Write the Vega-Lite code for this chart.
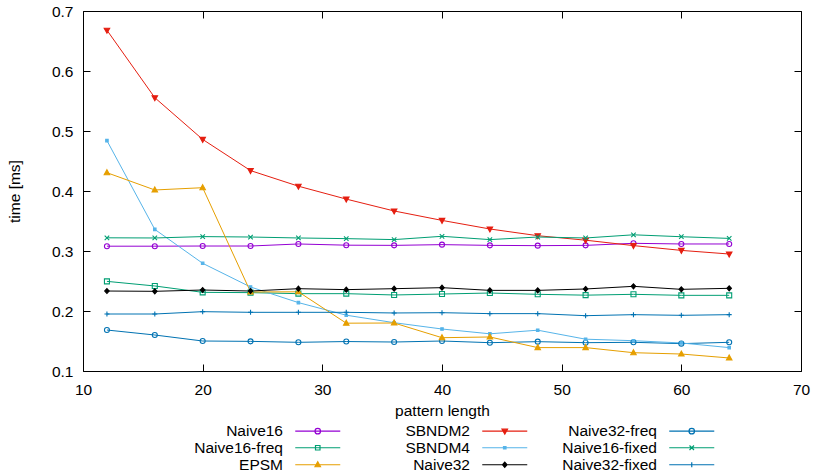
{
  "$schema": "https://vega.github.io/schema/vega-lite/v6.json",
  "width": 718,
  "height": 360,
  "autosize": {"type": "none"},
  "padding": {"left": 83, "top": 11, "right": 13, "bottom": 105},
  "background": "white",
  "config": {
    "font": "Liberation Sans",
    "view": {"stroke": "black", "strokeWidth": 1},
    "axis": {"grid": false, "domain": false, "tickColor": "black", "tickSize": -7, "tickWidth": 1, "labelColor": "black", "labelFontSize": 15.5, "titleFontSize": 15.5, "titleFontWeight": "normal", "titleColor": "black", "labelFont": "Liberation Sans", "titleFont": "Liberation Sans"}
  },
  "data": {"values": [
    {"series":"Naive16","x":12,"y":0.308},{"series":"Naive16","x":16,"y":0.308},{"series":"Naive16","x":20,"y":0.3083},{"series":"Naive16","x":24,"y":0.3083},{"series":"Naive16","x":28,"y":0.3117},{"series":"Naive16","x":32,"y":0.3097},{"series":"Naive16","x":36,"y":0.3094},{"series":"Naive16","x":40,"y":0.3106},{"series":"Naive16","x":44,"y":0.3094},{"series":"Naive16","x":48,"y":0.3089},{"series":"Naive16","x":52,"y":0.3094},{"series":"Naive16","x":56,"y":0.3128},{"series":"Naive16","x":60,"y":0.3117},{"series":"Naive16","x":64,"y":0.3117},
    {"series":"SBNDM2","x":12,"y":0.668},{"series":"SBNDM2","x":16,"y":0.5555},{"series":"SBNDM2","x":20,"y":0.486},{"series":"SBNDM2","x":24,"y":0.434},{"series":"SBNDM2","x":28,"y":0.408},{"series":"SBNDM2","x":32,"y":0.3865},{"series":"SBNDM2","x":36,"y":0.3667},{"series":"SBNDM2","x":40,"y":0.351},{"series":"SBNDM2","x":44,"y":0.3367},{"series":"SBNDM2","x":48,"y":0.3255},{"series":"SBNDM2","x":52,"y":0.318},{"series":"SBNDM2","x":56,"y":0.309},{"series":"SBNDM2","x":60,"y":0.301},{"series":"SBNDM2","x":64,"y":0.295},
    {"series":"Naive32-freq","x":12,"y":0.1683},{"series":"Naive32-freq","x":16,"y":0.16},{"series":"Naive32-freq","x":20,"y":0.15},{"series":"Naive32-freq","x":24,"y":0.1494},{"series":"Naive32-freq","x":28,"y":0.1478},{"series":"Naive32-freq","x":32,"y":0.1491},{"series":"Naive32-freq","x":36,"y":0.1483},{"series":"Naive32-freq","x":40,"y":0.15},{"series":"Naive32-freq","x":44,"y":0.1472},{"series":"Naive32-freq","x":48,"y":0.1489},{"series":"Naive32-freq","x":52,"y":0.1472},{"series":"Naive32-freq","x":56,"y":0.1478},{"series":"Naive32-freq","x":60,"y":0.1456},{"series":"Naive32-freq","x":64,"y":0.1478},
    {"series":"Naive16-freq","x":12,"y":0.2494},{"series":"Naive16-freq","x":16,"y":0.2417},{"series":"Naive16-freq","x":20,"y":0.2311},{"series":"Naive16-freq","x":24,"y":0.2306},{"series":"Naive16-freq","x":28,"y":0.2289},{"series":"Naive16-freq","x":32,"y":0.2289},{"series":"Naive16-freq","x":36,"y":0.2267},{"series":"Naive16-freq","x":40,"y":0.2283},{"series":"Naive16-freq","x":44,"y":0.23},{"series":"Naive16-freq","x":48,"y":0.2278},{"series":"Naive16-freq","x":52,"y":0.2264},{"series":"Naive16-freq","x":56,"y":0.2278},{"series":"Naive16-freq","x":60,"y":0.2261},{"series":"Naive16-freq","x":64,"y":0.2261},
    {"series":"SBNDM4","x":12,"y":0.484},{"series":"SBNDM4","x":16,"y":0.336},{"series":"SBNDM4","x":20,"y":0.2795},{"series":"SBNDM4","x":24,"y":0.24},{"series":"SBNDM4","x":28,"y":0.214},{"series":"SBNDM4","x":32,"y":0.193},{"series":"SBNDM4","x":36,"y":0.1805},{"series":"SBNDM4","x":40,"y":0.17},{"series":"SBNDM4","x":44,"y":0.162},{"series":"SBNDM4","x":48,"y":0.168},{"series":"SBNDM4","x":52,"y":0.153},{"series":"SBNDM4","x":56,"y":0.1505},{"series":"SBNDM4","x":60,"y":0.1467},{"series":"SBNDM4","x":64,"y":0.139},
    {"series":"Naive16-fixed","x":12,"y":0.322},{"series":"Naive16-fixed","x":16,"y":0.3217},{"series":"Naive16-fixed","x":20,"y":0.324},{"series":"Naive16-fixed","x":24,"y":0.3233},{"series":"Naive16-fixed","x":28,"y":0.3217},{"series":"Naive16-fixed","x":32,"y":0.3206},{"series":"Naive16-fixed","x":36,"y":0.319},{"series":"Naive16-fixed","x":40,"y":0.3245},{"series":"Naive16-fixed","x":44,"y":0.319},{"series":"Naive16-fixed","x":48,"y":0.3233},{"series":"Naive16-fixed","x":52,"y":0.3217},{"series":"Naive16-fixed","x":56,"y":0.327},{"series":"Naive16-fixed","x":60,"y":0.3238},{"series":"Naive16-fixed","x":64,"y":0.321},
    {"series":"EPSM","x":12,"y":0.4305},{"series":"EPSM","x":16,"y":0.4017},{"series":"EPSM","x":20,"y":0.4055},{"series":"EPSM","x":24,"y":0.2317},{"series":"EPSM","x":28,"y":0.232},{"series":"EPSM","x":32,"y":0.1797},{"series":"EPSM","x":36,"y":0.18},{"series":"EPSM","x":40,"y":0.1555},{"series":"EPSM","x":44,"y":0.1567},{"series":"EPSM","x":48,"y":0.139},{"series":"EPSM","x":52,"y":0.139},{"series":"EPSM","x":56,"y":0.1305},{"series":"EPSM","x":60,"y":0.1283},{"series":"EPSM","x":64,"y":0.1217},
    {"series":"Naive32","x":12,"y":0.2333},{"series":"Naive32","x":16,"y":0.2328},{"series":"Naive32","x":20,"y":0.235},{"series":"Naive32","x":24,"y":0.2333},{"series":"Naive32","x":28,"y":0.2372},{"series":"Naive32","x":32,"y":0.2356},{"series":"Naive32","x":36,"y":0.2372},{"series":"Naive32","x":40,"y":0.2389},{"series":"Naive32","x":44,"y":0.2344},{"series":"Naive32","x":48,"y":0.2344},{"series":"Naive32","x":52,"y":0.2367},{"series":"Naive32","x":56,"y":0.2411},{"series":"Naive32","x":60,"y":0.2361},{"series":"Naive32","x":64,"y":0.2378},
    {"series":"Naive32-fixed","x":12,"y":0.195},{"series":"Naive32-fixed","x":16,"y":0.195},{"series":"Naive32-fixed","x":20,"y":0.1989},{"series":"Naive32-fixed","x":24,"y":0.1978},{"series":"Naive32-fixed","x":28,"y":0.1978},{"series":"Naive32-fixed","x":32,"y":0.1978},{"series":"Naive32-fixed","x":36,"y":0.1967},{"series":"Naive32-fixed","x":40,"y":0.1972},{"series":"Naive32-fixed","x":44,"y":0.1956},{"series":"Naive32-fixed","x":48,"y":0.1956},{"series":"Naive32-fixed","x":52,"y":0.1922},{"series":"Naive32-fixed","x":56,"y":0.1939},{"series":"Naive32-fixed","x":60,"y":0.1928},{"series":"Naive32-fixed","x":64,"y":0.1939}
  ]},
  "layer": [
    {
      "mark": {"type": "line", "strokeWidth": 1, "clip": true},
      "encoding": {
        "x": {"field": "x", "type": "quantitative", "scale": {"domain": [10, 70], "nice": false, "zero": false}, "axis": {"orient": "bottom", "values": [10,20,30,40,50,60,70], "title": "pattern length", "labelPadding": 18, "titlePadding": 6, "labelFlush": false}},
        "y": {"field": "y", "type": "quantitative", "scale": {"domain": [0.1, 0.7], "nice": false, "zero": false}, "axis": {"orient": "left", "values": [0.1,0.2,0.3,0.4,0.5,0.6,0.7], "format": ".1f", "title": "time [ms]", "labelPadding": 17, "titlePadding": 29, "labelFlush": false}},
        "color": {
          "field": "series", "type": "nominal",
          "scale": {
            "domain": ["Naive16","SBNDM2","Naive32-freq","Naive16-freq","SBNDM4","Naive16-fixed","EPSM","Naive32","Naive32-fixed"],
            "range": ["#9400d3","#e51e10","#0072b2","#009e73","#56b4e9","#009e73","#e69f00","#000000","#0072b2"]
          },
          "legend": {
            "title": null,
            "orient": "none",
            "legendX": 227,
            "legendY": 412,
            "direction": "horizontal",
            "columns": 3,
            "gridAlign": "all",
            "columnPadding": 32,
            "rowPadding": 0,
            "symbolSize": 25,
            "symbolStrokeWidth": 1.2,
            "symbolOpacity": 1,
            "symbolType": {"expr": "{'Naive16':'M-9,0L9,0M1.1,0A1.1,1.1,0,1,1,-1.1,0A1.1,1.1,0,1,1,1.1,0','SBNDM2':'M-9,0L9,0M0,1.2L1.1,-0.8L-1.1,-0.8Z','Naive32-freq':'M-9,0L9,0M1.1,0A1.1,1.1,0,1,1,-1.1,0A1.1,1.1,0,1,1,1.1,0','Naive16-freq':'M-9,0L9,0M-0.9,-0.9L0.9,-0.9L0.9,0.9L-0.9,0.9Z','SBNDM4':'M-9,0L9,0M-0.5,-0.5L0.5,-0.5L0.5,0.5L-0.5,0.5Z','Naive16-fixed':'M-9,0L9,0M-0.9,-0.9L0.9,0.9M-0.9,0.9L0.9,-0.9','EPSM':'M-9,0L9,0M0,-1.2L1.1,0.8L-1.1,0.8Z','Naive32':'M-9,0L9,0M0,-1L0.9,0L0,1L-0.9,0Z','Naive32-fixed':'M-9,0L9,0M0,-1L0,1'}[datum.value]"},
            "symbolFillColor": {"expr": "{'Naive16':'transparent','SBNDM2':'#e51e10','Naive32-freq':'transparent','Naive16-freq':'transparent','SBNDM4':'#56b4e9','Naive16-fixed':'transparent','EPSM':'#e69f00','Naive32':'#000000','Naive32-fixed':'transparent'}[datum.value]"},
            "labelFontSize": 15.5,
            "labelFont": "Liberation Sans",
            "labelColor": "black",
            "labelAlign": "right",
            "labelOffset": -42.5
          }
        }
      }
    },
    {
      "mark": {"type": "point", "size": 25, "strokeWidth": 1.1, "opacity": 1, "clip": true},
      "encoding": {
        "x": {"field": "x", "type": "quantitative", "axis": {"orient": "top", "values": [10,20,30,40,50,60,70], "labels": false, "title": null}},
        "y": {"field": "y", "type": "quantitative", "axis": {"orient": "right", "values": [0.1,0.2,0.3,0.4,0.5,0.6,0.7], "labels": false, "title": null}},
        "stroke": {
          "field": "series", "type": "nominal", "legend": null,
          "scale": {
            "domain": ["EPSM","Naive16","Naive16-fixed","Naive16-freq","Naive32","Naive32-fixed","Naive32-freq","SBNDM2","SBNDM4"],
            "range": ["#e69f00","#9400d3","#009e73","#009e73","#000000","#0072b2","#0072b2","#e51e10","#56b4e9"]
          }
        },
        "shape": {
          "field": "series", "type": "nominal", "legend": null,
          "scale": {
            "domain": ["EPSM","Naive16","Naive16-fixed","Naive16-freq","Naive32","Naive32-fixed","Naive32-freq","SBNDM2","SBNDM4"],
            "range": ["M0,-1.2L1.1,0.8L-1.1,0.8Z","circle","M-0.9,-0.9L0.9,0.9M-0.9,0.9L0.9,-0.9","square","M0,-1L0.9,0L0,1L-0.9,0Z","M-1,0L1,0M0,-1L0,1","circle","M0,1.2L1.1,-0.8L-1.1,-0.8Z","M-0.5,-0.5L0.5,-0.5L0.5,0.5L-0.5,0.5Z"]
          }
        },
        "fill": {
          "field": "series", "type": "nominal", "legend": null,
          "scale": {
            "domain": ["EPSM","Naive16","Naive16-fixed","Naive16-freq","Naive32","Naive32-fixed","Naive32-freq","SBNDM2","SBNDM4"],
            "range": ["#e69f00","transparent","transparent","transparent","#000000","transparent","transparent","#e51e10","#56b4e9"]
          }
        }
      }
    }
  ],
  "resolve": {"axis": {"x": "independent", "y": "independent"}}
}
